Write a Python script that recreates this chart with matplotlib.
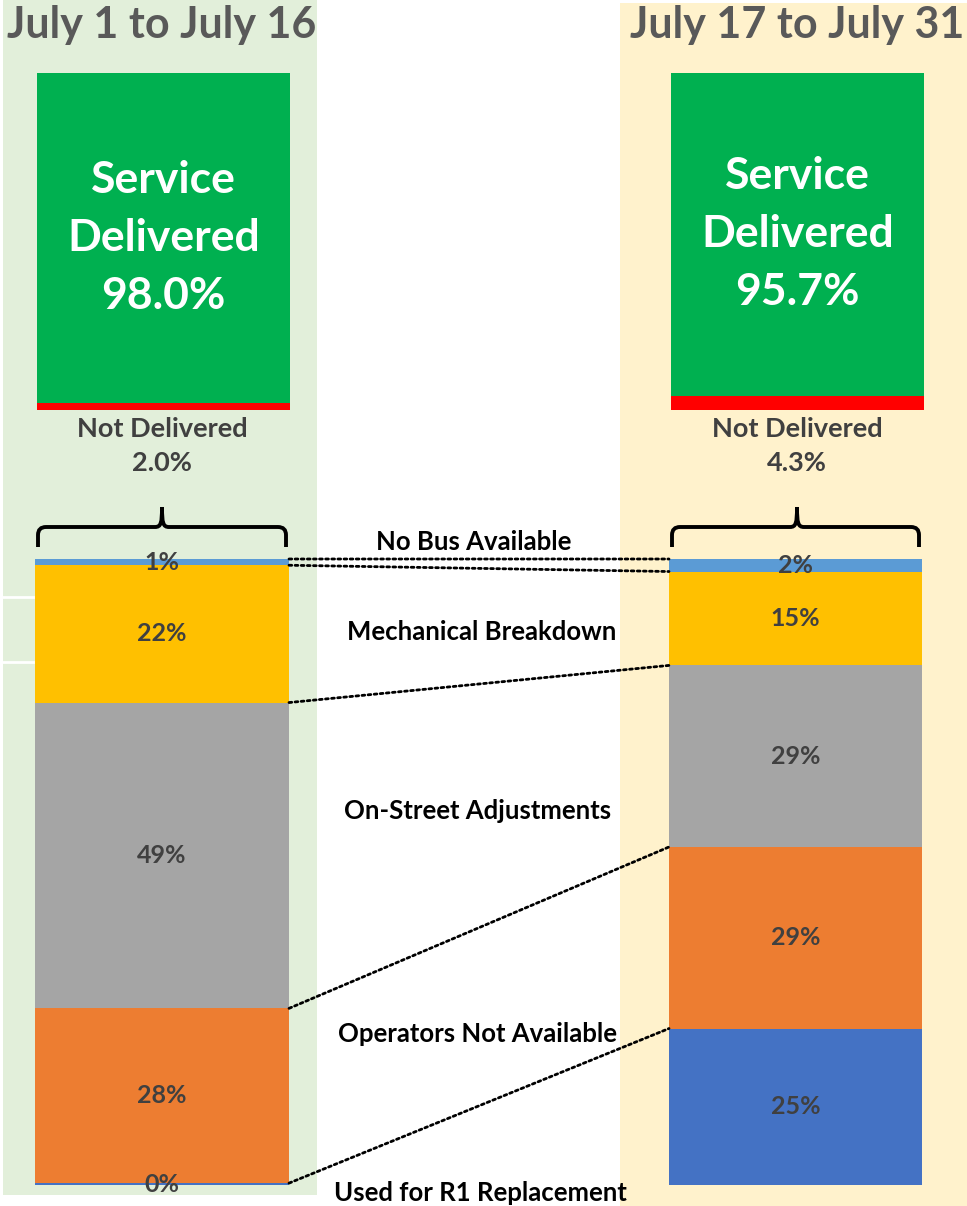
import numpy as np
import matplotlib.pyplot as plt
from matplotlib.patches import ConnectionPatch, Rectangle, PathPatch
from matplotlib.path import Path

plt.rcParams['font.family'] = ['Lato', 'DejaVu Sans']

# --- data ---
periods = ["July 1 to July 16", "July 17 to July 31"]
delivered = [98.0, 95.7]
not_delivered = [2.0, 4.3]
reasons = ["No Bus Available", "Mechanical Breakdown", "On-Street Adjustments",
           "Operators Not Available", "Used for R1 Replacement"]
share_first = [1, 22, 49, 28, 0.3]
share_second = [2, 15, 29, 29, 25]

reason_colors = ["#5B9BD5", "#FFC000", "#A5A5A5", "#ED7D31", "#4472C4"]
green, red = "#00B050", "#FF0000"
dark = "#404040"

W, H = 967, 1206
fig = plt.figure(figsize=(W/100, H/100), dpi=100)

def px_axes(x0, y0, x1, y1, z=1):
    ax = fig.add_axes([x0/W, 1-y1/H, (x1-x0)/W, (y1-y0)/H], zorder=z)
    ax.set_axis_off()
    return ax

# overlay in pixel coords for panels, braces and labels
bg = px_axes(0, 0, W, H, z=0)
bg.set_xlim(0, W)
bg.set_ylim(H, 0)
bg.add_patch(Rectangle((3, 0), 314, 1195, color="#E2EFDA", lw=0))
bg.add_patch(Rectangle((620, 3), 347, 1203, color="#FFF2CC", lw=0))
for yy in [597, 662]:
    bg.plot([3, 33], [yy, yy], color="white", lw=2)

col_cx = [162, 797]
top_boxes = [(37, 290), (671, 924)]
low_boxes = [(35, 289), (669, 922)]
shares = [share_first, share_second]

def brace(x0, x1, xc, y_end=547, y_mid=527, y_tip=507, r=8):
    verts = [(x0, y_end), (x0, y_mid + r), (x0, y_mid), (x0 + r, y_mid),
             (xc - 7, y_mid), (xc - 1, y_mid), (xc, y_mid - 4), (xc, y_tip),
             (xc, y_mid - 4), (xc + 1, y_mid), (xc + 7, y_mid),
             (x1 - r, y_mid), (x1, y_mid), (x1, y_mid + r), (x1, y_end)]
    codes = [Path.MOVETO, Path.LINETO, Path.CURVE3, Path.CURVE3,
             Path.LINETO, Path.CURVE4, Path.CURVE4, Path.CURVE4,
             Path.CURVE4, Path.CURVE4, Path.CURVE4,
             Path.LINETO, Path.CURVE3, Path.CURVE3, Path.LINETO]
    bg.add_patch(PathPatch(Path(verts, codes), fill=False, lw=2.8,
                           edgecolor="black", capstyle="butt"))

low_axes = []
for i in range(2):
    bg.text(col_cx[i], 25, periods[i], ha="center", va="center",
            fontsize=31, fontweight="bold", color="#595959")

    x0, x1 = top_boxes[i]
    ax = px_axes(x0, 73, x1, 410)
    ax.bar(0, not_delivered[i], width=1, color=red)
    ax.bar(0, delivered[i], bottom=not_delivered[i], width=1, color=green)
    ax.set_xlim(-0.5, 0.5)
    ax.set_ylim(0, 100)
    ax.text(0, not_delivered[i] + delivered[i]/2,
            f"Service\nDelivered\n{delivered[i]:.1f}%", ha="center", va="center",
            color="white", fontsize=32, fontweight="bold", linespacing=1.55)
    bg.text(col_cx[i], 446, f"Not Delivered\n{not_delivered[i]:.1f}%",
            ha="center", va="center", color=dark, fontsize=19.5,
            fontweight="bold", linespacing=1.5)

    x0, x1 = low_boxes[i]
    ax = px_axes(x0, 559, x1, 1185)
    vals = shares[i]
    bottoms = np.concatenate([[0], np.cumsum(vals)[:-1]])
    ax.bar(0, vals, bottom=bottoms, width=1, color=reason_colors)
    for v, b in zip(vals, bottoms):
        ax.text(0, b + v/2, f"{v:.0f}%", ha="center", va="center",
                color=dark, fontsize=18, fontweight="bold")
    ax.set_xlim(-0.5, 0.5)
    ax.set_ylim(sum(vals), 0)
    low_axes.append((ax, bottoms))

    brace(x0 + 3, x1 - 3, col_cx[i])

# dotted connectors between the segment tops
(axL, botL), (axR, botR) = low_axes
for yl, yr in zip(botL, botR):
    con = ConnectionPatch(xyA=(0.5, yl), coordsA=axL.transData,
                          xyB=(-0.5, yr), coordsB=axR.transData,
                          linestyle=(0, (1, 1.2)), lw=2, color="black", zorder=5)
    fig.add_artist(con)

label_y = [542, 632, 811, 1034, 1193]
label_x = [474, 482, 478, 478, 480]
for name, lx, ly in zip(reasons, label_x, label_y):
    bg.text(lx, ly, name, ha="center", va="center", fontsize=18.5,
            fontweight="bold", color="black")

fig.savefig("out.png", dpi=100)
